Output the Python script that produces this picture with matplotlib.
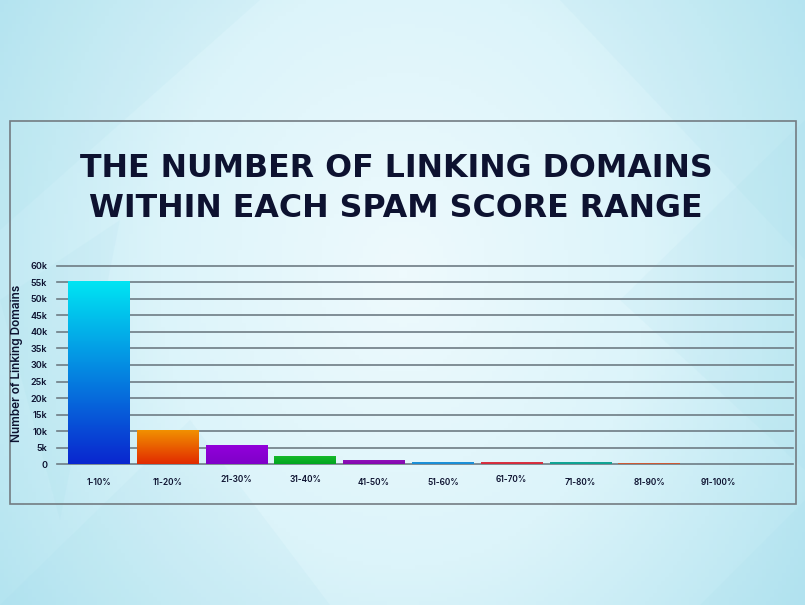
import matplotlib
matplotlib.use("Agg")
import matplotlib.pyplot as plt
import numpy as np
from matplotlib.patches import Rectangle, Polygon
from matplotlib.colors import LinearSegmentedColormap
import matplotlib.transforms as mtransforms

##### Data #####
ranges = ['1-10%', '11-20%', '21-30%', '31-40%', '41-50%',
          '51-60%', '61-70%', '71-80%', '81-90%', '91-100%']
linking_domains = [55300, 10400, 5800, 2500, 1400, 700, 550, 700, 400, 30]
y_ticks = [0, 5000, 10000, 15000, 20000, 25000, 30000, 35000, 40000, 45000, 50000, 55000, 60000]
y_tick_labels = ['0', '5k', '10k', '15k', '20k', '25k', '30k', '35k', '40k', '45k', '50k', '55k', '60k']

# bar colours: (top, bottom)
bar_colors = [('#00e6f3', '#0a26cf'), ('#f29400', '#e12a00'), ('#9300db', '#7f00c9'),
              ('#18bb2c', '#00a51e'), ('#9312bd', '#8208ad'), ('#1c95dc', '#1a8cd4'),
              ('#dc3444', '#d02a3a'), ('#12aa9a', '#0fa090'), ('#d8a040', '#c84030'),
              ('#c0c0c0', '#c0c0c0')]

title_text = 'THE NUMBER OF LINKING DOMAINS\nWITHIN EACH SPAM SCORE RANGE'
ylabel_text = 'Number of Linking Domains'

text_color = '#0d1230'
grid_color = '#6e7c84'
font = 'Inter'

W, H = 805, 605
fig = plt.figure(figsize=(W / 100, H / 100), dpi=100)

# Background gradient (light centre, bluer edges)
bg = fig.add_axes([0, 0, 1, 1])
bg.set_xlim(0, W)
bg.set_ylim(H, 0)
bg.axis('off')
gx, gy = np.meshgrid(np.linspace(0, 1, 200), np.linspace(0, 1, 150))
dist = np.sqrt(((gx - 0.5) / 0.62) ** 2 + ((gy - 0.45) / 1.0) ** 2)
bg_cmap = LinearSegmentedColormap.from_list('bg', ['#eefafd', '#dcf4fa', '#b4e4f0'])
bg.imshow(np.clip(dist, 0, 1), cmap=bg_cmap, extent=(0, W, H, 0), aspect='auto', zorder=0)
# faint facets
facets = [[(0, 0), (260, 0), (0, 230)], [(560, 0), (805, 0), (805, 260)],
          [(0, 605), (190, 420), (330, 605)], [(620, 300), (805, 120), (805, 470)],
          [(700, 605), (805, 500), (805, 605)], [(0, 300), (120, 220), (60, 520)]]
for pts in facets:
    bg.add_patch(Polygon(pts, closed=True, facecolor='#8fd3e6', alpha=0.08, edgecolor='none', zorder=1))

# frame around chart area
bg.add_patch(Rectangle((9.5, 121), 786, 383, fill=False, edgecolor='#737c82', linewidth=1.2, zorder=2))

# title
bg.text(396, 188.5, title_text, ha='center', va='center', fontsize=22.8, fontweight='bold',
        color=text_color, family='DejaVu Sans', linespacing=1.36, zorder=3)

##### Bar chart #####
ax = fig.add_axes([57 / W, 1 - 464.3 / H, (793 - 57) / W, (464.3 - 265.7) / H])
ax.patch.set_alpha(0)
x = np.arange(len(ranges))
for s in ax.spines.values():
    s.set_visible(False)

for t in y_ticks:
    ax.axhline(t, color=grid_color, linewidth=1.2, zorder=1, clip_on=False)

bars = ax.bar(x, linking_domains, width=0.9, color=[c[1] for c in bar_colors],
              edgecolor='none', zorder=2)
for b, (top, bottom) in zip(bars, bar_colors):
    cmap = LinearSegmentedColormap.from_list('g', [bottom, top])
    x0, y0 = b.get_x(), b.get_y()
    grad = np.linspace(0, 1, 256).reshape(-1, 1)
    im = ax.imshow(grad, cmap=cmap, origin='lower', aspect='auto',
                   extent=(x0, x0 + b.get_width(), y0, y0 + b.get_height()), zorder=3)
    im.set_clip_path(b)

ax.set_xlim(-0.61, 10.09)
ax.set_ylim(0, 60000)
ax.set_yticks(y_ticks)
ax.set_yticklabels(y_tick_labels, fontsize=6.5, color=text_color, family=font, fontweight='semibold')
ax.set_xticks(x)
ax.set_xticklabels(ranges, fontsize=6, color=text_color, family=font, fontweight='semibold')
ax.tick_params(axis='y', length=0, pad=7)
ax.tick_params(axis='x', length=0, pad=10)
# a few x labels sit slightly higher in the original
for i, lab in enumerate(ax.get_xticklabels()):
    if i in (2, 3, 6):
        lab.set_transform(lab.get_transform() + mtransforms.ScaledTranslation(0, 2 / 72, fig.dpi_scale_trans))

fig.text(17 / W, 1 - 363 / H, ylabel_text, rotation=90, ha='center', va='center',
         fontsize=8.5, color=text_color, family=font, fontweight='semibold')

plt.savefig('out.png', dpi=100)
plt.close()
